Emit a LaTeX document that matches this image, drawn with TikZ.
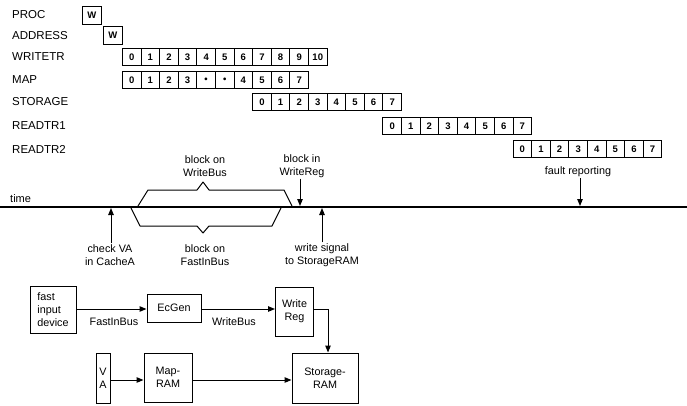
\documentclass[tikz,border=0pt]{standalone}
\usepackage{fontspec}
\setmainfont{Liberation Sans}
\usetikzlibrary{arrows.meta}
\begin{document}
\begin{tikzpicture}[x=1pt,y=-1pt,
  lbl/.style={font=\fontsize{11.5}{13}\selectfont, inner sep=0pt, anchor=west},
  cell/.style={draw, line width=0.9pt, minimum width=18.6pt, minimum height=17pt, inner sep=0pt, anchor=west, font=\bfseries\fontsize{9.5}{10}\selectfont},
  txt/.style={font=\fontsize{10.8}{13}\selectfont, align=center, inner sep=1pt},
  blk/.style={draw, line width=1pt, inner sep=0pt, font=\fontsize{10.8}{13}\selectfont, align=center},
  arr/.style={-{Triangle[length=7pt,width=5.5pt]}, line width=1pt},
  brace/.style={line width=1pt, line join=round},
]
\useasboundingbox (0,0) rectangle (687,406);

% row labels
\node[lbl] (lproc) at (12,15) {PROC};
\node[lbl] (laddr) at (12,36) {ADDRESS};
\node[lbl] (lwt) at (12,57) {WRITETR};
\node[lbl] (lmap) at (12,80) {MAP};
\node[lbl] (lsto) at (12,102) {STORAGE};
\node[lbl] (lr1) at (12,126) {READTR1};
\node[lbl] (lr2) at (12,149) {READTR2};

% W boxes
\node[cell, minimum width=19pt, minimum height=18pt] (wproc) at (82,15) {W};
\node[cell, minimum width=19pt, minimum height=18pt] (waddr) at (103,35) {W};

% cell rows
\foreach \i in {0,...,10}
  \node[cell] (wt\i) at ({122+\i*18.6},57) {\i};
\foreach \t [count=\i from 0] in {0,1,2,3,\textbullet,\textbullet,4,5,6,7}
  \node[cell] (mp\i) at ({122+\i*18.6},80) {\t};
\foreach \i in {0,...,7}
  \node[cell] (st\i) at ({252.2+\i*18.6},102) {\i};
\foreach \i in {0,...,7}
  \node[cell] (ra\i) at ({382.4+\i*18.6},126) {\i};
\foreach \i in {0,...,7}
  \node[cell] (rb\i) at ({512.6+\i*18.6},149) {\i};

% time line
\coordinate (tl) at (0,207);
\coordinate (tr) at (687,207);
\draw[line width=1.5pt] (tl) -- (tr);
\node[lbl, font=\fontsize{11}{13}\selectfont] (ltime) at (10,199) {time};

% braces
\draw[brace] (138,206) -- (148,190) -- (197,190) -- (203,182) -- (209,190) -- (284,190) -- (292,206);
\draw[brace] (131,208) -- (140,226) -- (197,226) -- (203,233) -- (209,226) -- (272,226) -- (281,208);

% labels above
\node[txt] (bwb) at (205,166) {block on\\WriteBus};
\node[txt] (bir) at (302,166) {block in\\WriteReg};
\node[txt] (frp) at (578,172) {fault reporting};
\coordinate (a1) at (300,206);
\coordinate (a3) at (580,206);
\draw[arr] (bir.south -| a1) -- (a1);
\draw[arr] (frp.south -| a3) -- (a3);

% labels below
\node[txt] (cva) at (110,255) {check VA\\in CacheA};
\node[txt] (bfb) at (205,255) {block on\\FastInBus};
\node[txt] (wss) at (322,255) {write signal\\to StorageRAM};
\coordinate (a0) at (111,208);
\coordinate (a2) at (322,208);
\draw[arr] (cva.north -| a0) -- (a0);
\draw[arr] (wss.north -| a2) -- (a2);

% block diagram
\node[blk, minimum width=46pt, minimum height=47pt, align=left] (fid) at (53,309.5) {fast\\input\\device};
\node[blk, minimum width=54pt, minimum height=28pt] (ecg) at (174,308) {EcGen};
\node[blk, minimum width=38pt, minimum height=49pt] (wrg) at (294.5,311.5) {Write\\Reg};
\node[blk, minimum width=66pt, minimum height=50pt] (srm) at (325,378) {Storage-\\RAM};
\node[blk, minimum width=14pt, minimum height=50pt] (va) at (103,378) {V\\A};
\node[blk, minimum width=48pt, minimum height=49pt] (mrm) at (168,377.5) {Map-\\RAM};

\draw[arr] (fid.east |- 0,309) -- (ecg.west |- 0,309);
\draw[arr] (ecg.east |- 0,309) -- (wrg.west |- 0,309);
\draw[arr] (wrg.east |- 0,309) -| ([xshift=3pt]srm.north);
\draw[arr] (va.east |- 0,380) -- (mrm.west |- 0,380);
\draw[arr] (mrm.east |- 0,380) -- (srm.west |- 0,380);

\node[txt] (lfib) at (114,322) {FastInBus};
\node[txt] (lwb) at (234,322) {WriteBus};
\end{tikzpicture}
\end{document}
